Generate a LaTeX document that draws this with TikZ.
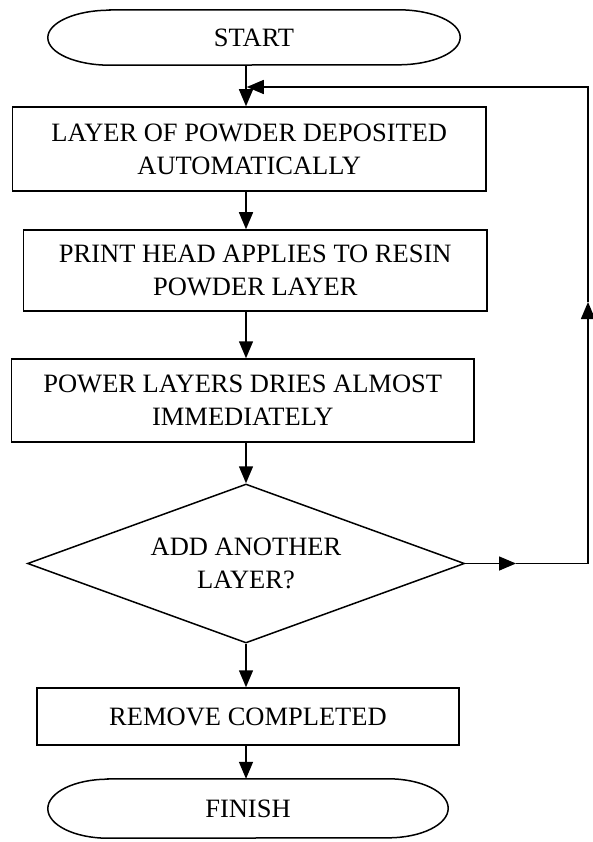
\documentclass[tikz,border=0pt]{standalone}
\usepackage{fontspec}
\setmainfont{Liberation Serif}
\usetikzlibrary{arrows.meta,shapes.geometric}

% draws a terminal (stadium with elliptic ends) around node #1; #2 = end radius, #3 = half height
\newcommand\terminalshape[3]{%
  \draw[wire] ([xshift=#2pt]#1.north west) -- ([xshift=-#2pt]#1.north east)
    arc[start angle=90,end angle=-90,x radius=#2pt,y radius=#3pt]
    -- ([xshift=#2pt]#1.south west)
    arc[start angle=270,end angle=90,x radius=#2pt,y radius=#3pt] -- cycle;}

\begin{document}
\begin{tikzpicture}[x=1pt,y=-1pt,
  every node/.style={font=\fontsize{26.5}{33}\selectfont, align=center, inner sep=0pt},
  wire/.style={line width=1.5pt, line join=miter},
  arr/.style={wire, -{Triangle[length=17pt,width=14pt]}},
  stepbox/.style={draw, line width=1.5pt, rectangle},
  termbox/.style={draw=none, rectangle},
  decision/.style={draw, line width=1.5pt, diamond, aspect=2.75}
]
\useasboundingbox (0,0) rectangle (592,842);
\fill[white] (0,0) rectangle (592,842);

% vertical spine of the flow and the return loop guides
\coordinate (spine) at (246,0);
\coordinate (rx) at (588,0);
\coordinate (ax) at (516,0);
\coordinate (uy) at (0,302);
\coordinate (ly) at (0,87);

\node[termbox, minimum width=412pt, minimum height=55pt] (start) at (254,37.5) {START};
\terminalshape{start}{62}{27.5}

\node[stepbox, minimum width=473.5pt, minimum height=84pt] (box1) at (249.25,149)
  {LAYER OF POWDER DEPOSITED\\AUTOMATICALLY};
\node[stepbox, minimum width=463.5pt, minimum height=81pt] (box2) at (255.25,270.5)
  {PRINT HEAD APPLIES TO RESIN\\POWDER LAYER};
\node[stepbox, minimum width=462.5pt, minimum height=83pt] (box3) at (242.75,400.5)
  {POWER LAYERS DRIES ALMOST\\IMMEDIATELY};
\node[decision, minimum width=437pt, minimum height=159pt] (dia) at (246,563.5)
  {ADD ANOTHER\\LAYER?};
\node[stepbox, minimum width=422pt, minimum height=57pt] (remove) at (248,716.5)
  {REMOVE COMPLETED};
\node[termbox, minimum width=400pt, minimum height=59pt] (finish) at (248,808.5) {FINISH};
\terminalshape{finish}{60}{29.5}

% main flow
\draw[arr] (start.south -| spine) -- (box1.north -| spine);
\draw[arr] (box1.south -| spine) -- (box2.north -| spine);
\draw[arr] (box2.south -| spine) -- (box3.north -| spine);
\draw[arr] (box3.south -| spine) -- (dia.north);
\draw[arr] (dia.south) -- (remove.north -| spine);
\draw[arr] (remove.south -| spine) -- (finish.north -| spine);

% return loop for another layer
\draw[arr] (dia.east) -- (dia.east -| ax);
\draw[wire] (dia.east -| ax) -- (dia.east -| rx);
\draw[arr] (dia.east -| rx) -- (rx |- uy);
\draw[arr] (rx |- uy) -- (rx |- ly) -- ([xshift=0.75pt]ly -| spine);
\end{tikzpicture}
\end{document}
